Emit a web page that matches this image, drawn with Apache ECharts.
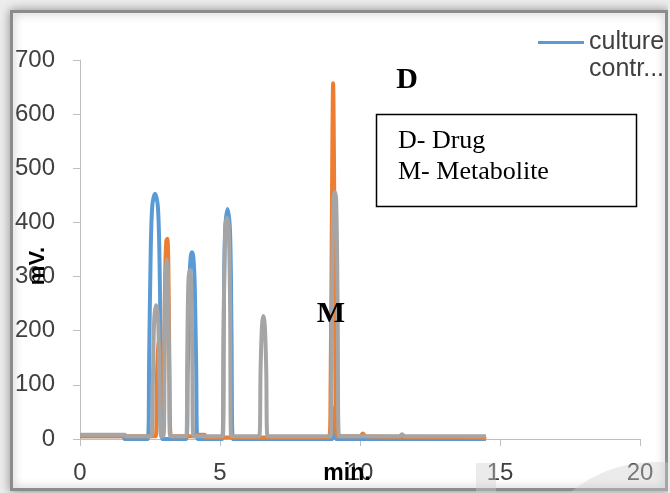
<!DOCTYPE html>
<html>
<head>
<meta charset="utf-8">
<script src="https://cdn.jsdelivr.net/npm/echarts@6/dist/echarts.min.js"></script>
<style>
  html, body { margin: 0; padding: 0; background: #ececec; }
  #chart { width: 670px; height: 493px; }
</style>
</head>
<body>
<div id="chart"></div>
<script>
// Chromatogram traces: [retention time (min), response (mV)]
const cultureTrace = [
  [0, 5], [1.55, 5], [1.6, 0], [2.42, 0], [2.47, 150], [2.52, 330], [2.58, 430], [2.68, 453],
  [2.78, 430], [2.84, 330], [2.89, 150], [2.94, 0], [3.8, 0], [3.85, 130], [3.9, 280],
  [3.95, 335], [4.0, 345], [4.05, 335], [4.1, 280], [4.15, 130], [4.2, 0], [5.08, 0],
  [5.13, 200], [5.18, 380], [5.27, 425], [5.36, 380], [5.41, 200], [5.46, 0], [9.0, 0],
  [9.05, 40], [9.1, 60], [9.15, 0], [11.5, 0], [14.5, 0]
];
const drugTrace = [
  [0, 5], [2.7, 5], [2.75, 120], [2.82, 180], [2.88, 150], [2.95, 60], [3.0, 100],
  [3.04, 300], [3.08, 365], [3.12, 370], [3.16, 300], [3.2, 100], [3.25, 5], [4.1, 5],
  [4.2, 8], [4.45, 8], [4.5, 3], [8.9, 3], [8.95, 100], [9.0, 450], [9.04, 657],
  [9.08, 450], [9.13, 100], [9.18, 5], [10.0, 5], [10.1, 10], [10.2, 5], [14.3, 3], [14.5, 0]
];
const controlTrace = [
  [0, 8], [1.6, 8], [1.65, 5], [2.55, 5], [2.6, 100], [2.65, 220], [2.72, 247], [2.79, 220],
  [2.84, 100], [2.9, 5], [2.98, 5], [3.02, 150], [3.06, 300], [3.1, 332], [3.14, 300],
  [3.18, 150], [3.22, 5], [3.8, 5], [3.83, 150], [3.87, 290], [3.92, 312], [3.97, 290],
  [4.01, 150], [4.05, 5], [5.1, 5], [5.14, 250], [5.19, 390], [5.25, 408], [5.31, 390],
  [5.36, 250], [5.4, 5], [6.4, 5], [6.45, 130], [6.5, 210], [6.55, 227], [6.6, 210],
  [6.65, 130], [6.7, 5], [8.95, 5], [9.0, 250], [9.05, 440], [9.1, 456], [9.15, 440],
  [9.2, 250], [9.25, 5], [11.4, 5], [11.5, 9], [11.6, 5], [14.5, 5]
];
const seriesNames = ['culture control', 'drug', 'control'];
const seriesColors = ['#5b9bd5', '#ed7d31', '#a5a5a5'];
const xTicks = [0, 5, 10, 15, 20];
const yTicks = [0, 100, 200, 300, 400, 500, 600, 700];

const chart = echarts.init(document.getElementById('chart'));
const axisFont = { fontFamily: 'Liberation Sans', fontSize: 24, color: '#404040' };

const traces = [cultureTrace, drugTrace, controlTrace];
chart.setOption({
  backgroundColor: '#ececec',
  animation: false,
  grid: { left: 80, right: 30, top: 60, bottom: 54 },
  legend: {
    data: [seriesNames[0]],
    left: 533, top: 25,
    itemWidth: 46, itemHeight: 14, itemGap: 6,
    icon: 'path://M0,5.5 L46,5.5 L46,8.5 L0,8.5 Z',
    formatter: () => 'culture',
    textStyle: { fontFamily: 'Liberation Sans', fontSize: 25, color: '#404040' }
  },
  xAxis: {
    type: 'value', min: xTicks[0], max: xTicks[xTicks.length - 1], interval: 5,
    axisLine: { onZero: false, lineStyle: { color: '#bfbfbf', width: 1 } },
    axisTick: { show: true, length: 7, lineStyle: { color: '#bfbfbf' } },
    axisLabel: Object.assign({ margin: 22 }, axisFont),
    splitLine: { show: false }
  },
  yAxis: {
    type: 'value', min: yTicks[0], max: yTicks[yTicks.length - 1], interval: 100,
    axisLine: { show: true, lineStyle: { color: '#bfbfbf', width: 1 } },
    axisTick: { show: true, length: 7, lineStyle: { color: '#bfbfbf' } },
    axisLabel: Object.assign({ margin: 25 }, axisFont),
    splitLine: { show: false }
  },
  series: traces.map((d, i) => ({
    name: seriesNames[i],
    type: 'line',
    data: d,
    showSymbol: false,
    smooth: 0.35,
    lineStyle: { width: 4, color: seriesColors[i] },
    itemStyle: { color: seriesColors[i] },
    z: 2 + i
  })),
  graphic: [
    // page frame
    { type: 'rect', z: -1, shape: { x: 11.5, y: 11.5, width: 655, height: 478 },
      style: { fill: '#ffffff', stroke: '#8c8c8c', lineWidth: 3,
               shadowBlur: 10, shadowColor: 'rgba(0,0,0,0.35)' } },
    // faint marks along the bottom edge
    { type: 'rect', z: 1, shape: { x: 476, y: 463, width: 20, height: 30 },
      style: { fill: 'rgba(205,205,205,0.4)' } },
    { type: 'circle', z: 1, shape: { cx: 655, cy: 595, r: 133 },
      style: { fill: 'rgba(205,205,205,0.4)' } },
    // overflow strip at the right edge
    { type: 'rect', z: 100, shape: { x: 668, y: 0, width: 4, height: 493 },
      style: { fill: '#ececec' } },
    // legend continuation line
    { type: 'text', z: 10, x: 589, y: 69,
      style: { text: 'contr...', fontFamily: 'Liberation Sans', fontSize: 25,
               fill: '#404040', verticalAlign: 'middle' } },
    // axis names
    { type: 'text', z: 10, x: 38, y: 266, rotation: Math.PI / 2,
      style: { text: 'mV.', fontFamily: 'Liberation Sans', fontSize: 22, fontWeight: 'bold',
               fill: '#000000', align: 'center', verticalAlign: 'middle' } },
    { type: 'text', z: 10, x: 347, y: 474,
      style: { text: 'min.', fontFamily: 'Liberation Sans', fontSize: 23, fontWeight: 'bold',
               fill: '#000000', align: 'center', verticalAlign: 'middle' } },
    // peak labels
    { type: 'text', z: 10, x: 407, y: 80,
      style: { text: 'D', fontFamily: 'Liberation Serif', fontSize: 30, fontWeight: 'bold',
               fill: '#000000', align: 'center', verticalAlign: 'middle' } },
    { type: 'text', z: 10, x: 331, y: 314,
      style: { text: 'M', fontFamily: 'Liberation Serif', fontSize: 30, fontWeight: 'bold',
               fill: '#000000', align: 'center', verticalAlign: 'middle' } },
    // key box
    { type: 'rect', z: 10, shape: { x: 376.5, y: 114.5, width: 260, height: 92 },
      style: { fill: '#ffffff', stroke: '#000000', lineWidth: 1.5 } },
    { type: 'text', z: 11, x: 398, y: 141,
      style: { text: 'D- Drug', fontFamily: 'Liberation Serif', fontSize: 26,
               fill: '#000000', verticalAlign: 'middle' } },
    { type: 'text', z: 11, x: 398, y: 172,
      style: { text: 'M- Metabolite', fontFamily: 'Liberation Serif', fontSize: 26,
               fill: '#000000', verticalAlign: 'middle' } }
  ]
});
</script>
</body>
</html>
